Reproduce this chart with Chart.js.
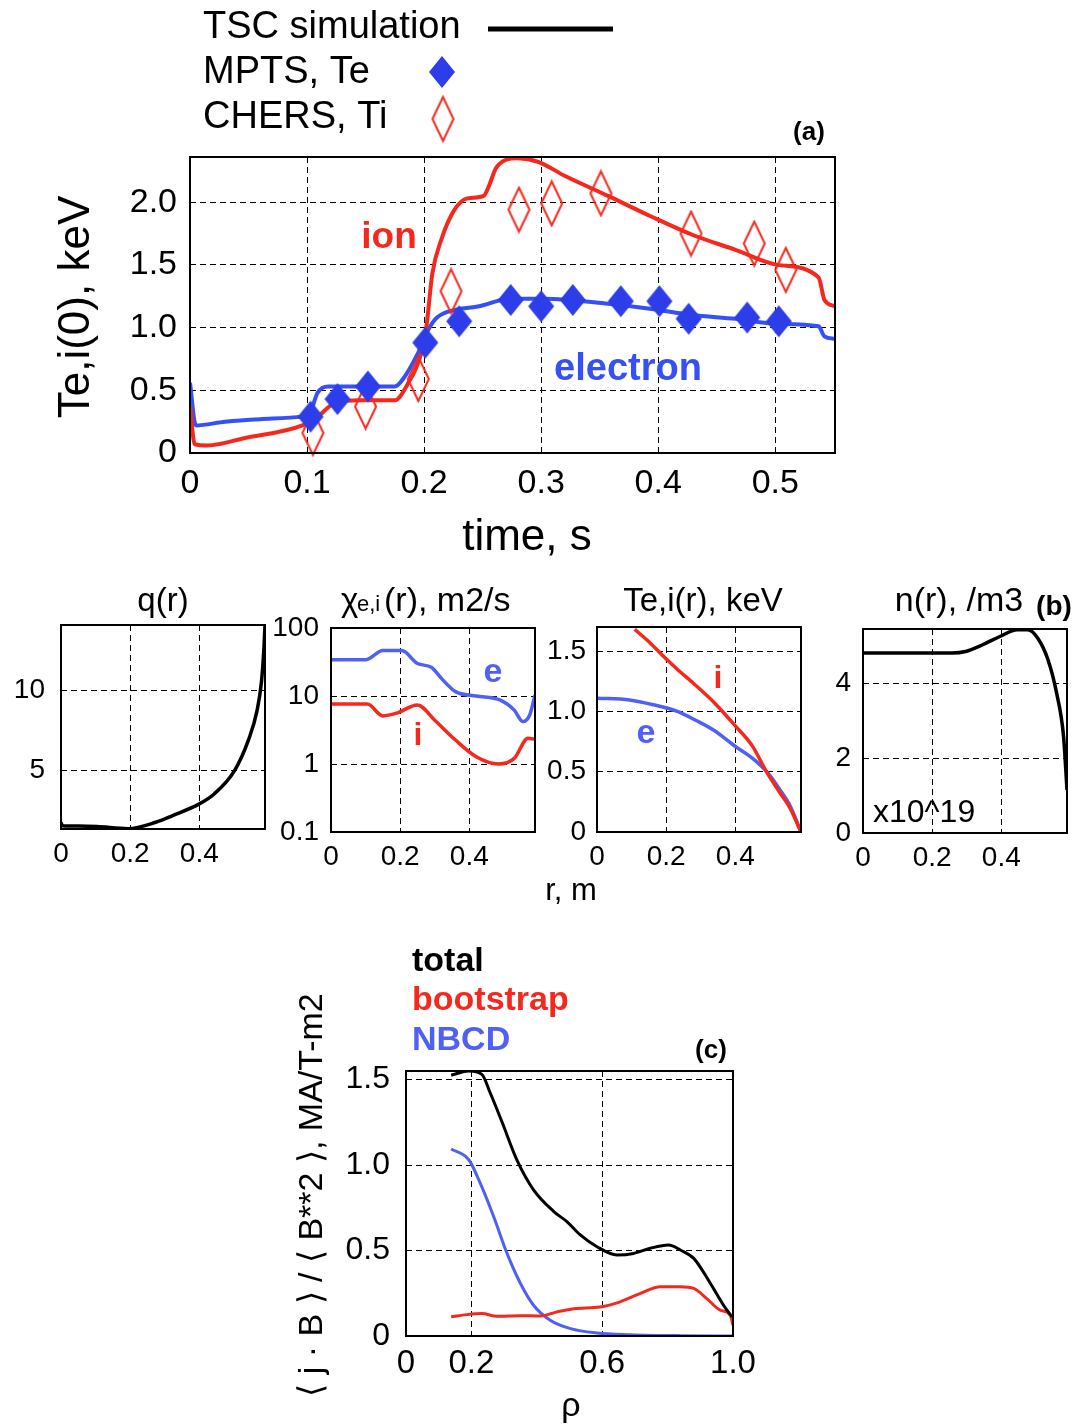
<!DOCTYPE html>
<html>
<head>
<meta charset="utf-8">
<script src="https://cdn.jsdelivr.net/npm/chart.js@4.4.0/dist/chart.umd.min.js"></script>
<style>
  html, body { margin: 0; padding: 0; background: #fff; }
  #fig { position: relative; width: 1078px; height: 1426px; overflow: hidden; }
  #fig canvas { position: absolute; }
</style>
</head>
<body>
<div id="fig">
  <canvas id="chA"></canvas>
  <canvas id="chQ"></canvas>
  <canvas id="chChi"></canvas>
  <canvas id="chT"></canvas>
  <canvas id="chN"></canvas>
  <canvas id="chC"></canvas>
</div>
<script>
// ---- (a) central temperatures vs time ----
var timeTicks = [0, 0.1, 0.2, 0.3, 0.4, 0.5];
var timeLabels = ["0", "0.1", "0.2", "0.3", "0.4", "0.5"];
var tempTicks = [0, 0.5, 1.0, 1.5, 2.0];
var tempLabels = ["0", "0.5", "1.0", "1.5", "2.0"];

var teSimTime = [0, 0.005, 0.03, 0.06, 0.096, 0.102, 0.109, 0.118, 0.175, 0.182, 0.195, 0.204, 0.211, 0.226, 0.247, 0.273, 0.302, 0.357, 0.393, 0.429, 0.466, 0.502, 0.537, 0.542, 0.551];
var teSim = [0.56, 0.22, 0.25, 0.27, 0.29, 0.31, 0.48, 0.53, 0.53, 0.59, 0.80, 0.99, 1.08, 1.14, 1.17, 1.23, 1.23, 1.19, 1.15, 1.10, 1.07, 1.03, 1.01, 0.93, 0.91];
var tiSimTime = [0, 0.004, 0.015, 0.047, 0.096, 0.109, 0.124, 0.146, 0.175, 0.186, 0.197, 0.202, 0.207, 0.215, 0.226, 0.237, 0.251, 0.255, 0.262, 0.280, 0.298, 0.320, 0.357, 0.393, 0.429, 0.466, 0.502, 0.537, 0.542, 0.551];
var tiSim = [0.38, 0.07, 0.06, 0.12, 0.22, 0.29, 0.40, 0.42, 0.42, 0.55, 0.78, 1.01, 1.43, 1.71, 1.94, 2.03, 2.05, 2.12, 2.28, 2.35, 2.32, 2.21, 2.05, 1.89, 1.74, 1.62, 1.50, 1.40, 1.22, 1.17];
var mptsTime = [0.103, 0.126, 0.152, 0.201, 0.230, 0.274, 0.300, 0.327, 0.368, 0.401, 0.426, 0.476, 0.503];
var mptsTe = [0.29, 0.43, 0.53, 0.88, 1.05, 1.22, 1.17, 1.22, 1.21, 1.21, 1.07, 1.08, 1.05];
var chersTime = [0.105, 0.150, 0.195, 0.223, 0.281, 0.309, 0.351, 0.428, 0.482, 0.509];
var chersTi = [0.16, 0.37, 0.59, 1.29, 1.94, 1.99, 2.07, 1.75, 1.67, 1.46];

// ---- (b) radial profiles ----
var rTicks = [0, 0.2, 0.4];
var rLabels = ["0", "0.2", "0.4"];
var qTicks = [5, 10];
var qLabels = ["5", "10"];
var rQ = [0, 0.005, 0.05, 0.104, 0.194, 0.274, 0.323, 0.4, 0.443, 0.502, 0.542, 0.567, 0.58, 0.587, 0.59];
var qProf = [1.75, 1.55, 1.53, 1.5, 1.37, 1.77, 2.19, 2.92, 3.54, 5.0, 6.9, 8.75, 10.6, 12.7, 14.1];

var chiTicks = [0.1, 1, 10, 100];
var chiLabels = ["0.1", "1", "10", "100"];
var rChiE = [0, 0.1, 0.15, 0.205, 0.25, 0.29, 0.32, 0.36, 0.42, 0.49, 0.53, 0.555, 0.575, 0.59];
var chiE = [34, 34, 46.5, 46.5, 30, 26.5, 18, 11.6, 10, 8.7, 6.2, 4.2, 5.3, 10.3];
var rChiI = [0, 0.105, 0.15, 0.19, 0.25, 0.30, 0.36, 0.42, 0.485, 0.53, 0.57, 0.59];
var chiI = [7.6, 7.6, 5.1, 5.6, 7.4, 4.4, 2.25, 1.28, 1.0, 1.21, 2.4, 2.3];

var tProfTicks = [0, 0.5, 1.0, 1.5];
var tProfLabels = ["0", "0.5", "1.0", "1.5"];
var rTe = [0, 0.094, 0.163, 0.232, 0.29, 0.34, 0.40, 0.45, 0.494, 0.528, 0.558, 0.59];
var teProf = [1.11, 1.095, 1.055, 1.0, 0.92, 0.84, 0.71, 0.61, 0.49, 0.355, 0.22, 0.0];
var rTi = [0.109, 0.153, 0.202, 0.232, 0.28, 0.34, 0.40, 0.45, 0.49, 0.528, 0.558, 0.59];
var tiProf = [1.68, 1.57, 1.43, 1.35, 1.23, 1.07, 0.88, 0.71, 0.50, 0.33, 0.20, 0.0];

var nTicks = [0, 2, 4];
var nLabels = ["0", "2", "4"];
var rN = [0, 0.257, 0.297, 0.346, 0.396, 0.446, 0.476, 0.505, 0.535, 0.56, 0.58, 0.59];
var nProf = [4.8, 4.8, 4.84, 5.02, 5.24, 5.42, 5.42, 5.2, 4.62, 3.73, 2.58, 1.15];

// ---- (c) current profiles ----
var rhoTicks = [0, 0.2, 0.6, 1.0];
var rhoLabels = ["0", "0.2", "0.6", "1.0"];
var jTicks = [0, 0.5, 1.0, 1.5];
var jLabels = ["0", "0.5", "1.0", "1.5"];
var rhoTot = [0.138, 0.192, 0.232, 0.258, 0.294, 0.339, 0.39, 0.452, 0.492, 0.533, 0.584, 0.645, 0.696, 0.747, 0.803, 0.839, 0.88, 0.931, 0.971, 0.997];
var jTotal = [1.525, 1.55, 1.53, 1.42, 1.25, 1.03, 0.855, 0.728, 0.669, 0.591, 0.522, 0.474, 0.483, 0.513, 0.532, 0.503, 0.454, 0.307, 0.18, 0.112];
var rhoBs = [0.138, 0.187, 0.232, 0.278, 0.35, 0.411, 0.462, 0.513, 0.594, 0.655, 0.717, 0.778, 0.839, 0.88, 0.92, 0.961, 0.992, 1.0];
var jBoot = [0.112, 0.125, 0.131, 0.115, 0.119, 0.117, 0.141, 0.16, 0.17, 0.2, 0.249, 0.288, 0.288, 0.278, 0.219, 0.151, 0.121, 0.063];
var rhoNb = [0.138, 0.192, 0.227, 0.268, 0.309, 0.35, 0.39, 0.441, 0.503, 0.584, 0.686, 0.839, 1.0];
var jNbcd = [1.094, 1.031, 0.894, 0.699, 0.483, 0.307, 0.18, 0.092, 0.043, 0.018, 0.008, 0.002, 0];

var RED = "#f4281c";
var BLUE = "#3550f6";
var BLUE2 = "#5060f4";
var FONT = "'Liberation Sans', Arial, Helvetica, sans-serif";

Chart.defaults.font.family = FONT;
Chart.defaults.color = "#000";

function pts(xs, ys) {
  return xs.map(function (x, i) { return { x: x, y: ys[i] }; });
}

function diamond(w, h, fill, stroke, lw) {
  var c = document.createElement("canvas");
  c.width = w + 2 * lw;
  c.height = h + 2 * lw;
  var g = c.getContext("2d");
  g.beginPath();
  g.moveTo(c.width / 2, lw);
  g.lineTo(c.width - lw, c.height / 2);
  g.lineTo(c.width / 2, c.height - lw);
  g.lineTo(lw, c.height / 2);
  g.closePath();
  if (fill) { g.fillStyle = fill; g.fill(); }
  if (stroke) { g.strokeStyle = stroke; g.lineWidth = lw; g.stroke(); }
  return c;
}
var blueDiamond = diamond(26, 32, "#2c3de9", null, 1);
var redDiamond = diamond(21, 44, null, RED, 2);

function font(size, bold) {
  return (bold ? "bold " : "") + size + "px " + FONT;
}

// frame around the plot + free texts / marks given in page coordinates
function decor(box, d) {
  return {
    id: "decor",
    afterDatasetsDraw: function (chart) {
      var ctx = chart.ctx, a = chart.chartArea;
      ctx.save();
      ctx.strokeStyle = "#000";
      ctx.lineWidth = 2;
      ctx.strokeRect(a.left, a.top, a.right - a.left, a.bottom - a.top);
      ctx.restore();
    },
    afterDraw: function (chart) {
      var ctx = chart.ctx;
      (d.texts || []).forEach(function (t) {
        ctx.save();
        ctx.font = t[3];
        ctx.fillStyle = t[4] || "#000";
        ctx.textAlign = t[5] || "center";
        ctx.textBaseline = "alphabetic";
        ctx.translate(t[1] - box[0], t[2] - box[1]);
        if (t[6]) ctx.rotate(t[6]);
        ctx.fillText(t[0], 0, 0);
        ctx.restore();
      });
      (d.lines || []).forEach(function (l) {
        ctx.save();
        ctx.strokeStyle = l[5];
        ctx.lineWidth = l[4];
        ctx.beginPath();
        ctx.moveTo(l[0] - box[0], l[1] - box[1]);
        ctx.lineTo(l[2] - box[0], l[3] - box[1]);
        ctx.stroke();
        ctx.restore();
      });
      (d.marks || []).forEach(function (m) {
        ctx.drawImage(m[0], m[1] - box[0] - m[0].width / 2, m[2] - box[1] - m[0].height / 2);
      });
    }
  };
}

function axis(s, dir, size) {
  return {
    type: s.type || "linear",
    min: s.min,
    max: s.max,
    afterBuildTicks: function (sc) {
      sc.ticks = s.ticks.map(function (v) { return { value: v }; });
    },
    afterFit: function (sc) {
      if (dir === "x") sc.height = size; else sc.width = size;
    },
    ticks: {
      font: { size: s.font },
      color: "#000",
      padding: s.pad,
      autoSkip: false,
      maxRotation: 0,
      callback: function (v, i) { return s.labels[i]; }
    },
    grid: { color: "#000", lineWidth: 1, drawTicks: false },
    border: { display: false, dash: [6, 4] }
  };
}

function makeChart(id, box, area, datasets, xs, ys, d) {
  var cv = document.getElementById(id);
  cv.width = box[2];
  cv.height = box[3];
  cv.style.left = box[0] + "px";
  cv.style.top = box[1] + "px";
  cv.style.width = box[2] + "px";
  cv.style.height = box[3] + "px";
  return new Chart(cv, {
    type: "line",
    data: { datasets: datasets },
    options: {
      responsive: false,
      animation: false,
      layout: { padding: { left: 0, bottom: 0, top: area[1] - box[1], right: box[0] + box[2] - area[2] } },
      plugins: { legend: { display: false }, tooltip: { enabled: false } },
      scales: {
        x: axis(xs, "x", box[1] + box[3] - area[3]),
        y: axis(ys, "y", area[0] - box[0])
      }
    },
    plugins: [decor(box, d)]
  });
}

function curve(data, color, w) {
  return { data: data, borderColor: color, borderWidth: w, pointRadius: 0, cubicInterpolationMode: "monotone", fill: false };
}

// (a)
makeChart("chA", [0, 0, 1078, 570], [190, 157, 835, 453], [
  { data: pts(mptsTime, mptsTe), showLine: false, pointStyle: blueDiamond, pointRadius: 12, clip: false },
  { data: pts(chersTime, chersTi), showLine: false, pointStyle: redDiamond, pointRadius: 12, clip: false },
  curve(pts(tiSimTime, tiSim), RED, 4),
  curve(pts(teSimTime, teSim), BLUE, 4)
], { min: 0, max: 0.551, ticks: timeTicks, labels: timeLabels, font: 34, pad: 10 },
   { min: 0, max: 2.36, ticks: tempTicks, labels: tempLabels, font: 34, pad: 13 }, {
  texts: [
    ["TSC simulation", 203, 38, font(38), "#000", "left"],
    ["MPTS, Te", 203, 83, font(38), "#000", "left"],
    ["CHERS, Ti", 203, 128, font(38), "#000", "left"],
    ["(a)", 809, 140, font(26, true)],
    ["ion", 389, 248, font(37, true), RED],
    ["electron", 628, 380, font(38, true), BLUE],
    ["Te,i(0), keV", 89, 307, font(44), "#000", "center", -Math.PI / 2],
    ["time, s", 527, 550, font(44)]
  ],
  lines: [[488, 29, 613, 29, 5, "#000"]],
  marks: [[blueDiamond, 442, 72], [redDiamond, 443, 119]]
});

// (b) q(r)
makeChart("chQ", [0, 570, 268, 340], [61, 625, 265, 829], [
  curve(pts(rQ, qProf), "#000", 3.5)
], { min: 0, max: 0.59, ticks: rTicks, labels: rLabels, font: 28, pad: 8 },
   { min: 1.35, max: 14.1, ticks: qTicks, labels: qLabels, font: 28, pad: 16 }, {
  texts: [["q(r)", 163, 611, font(33)]]
});

// (b) chi(r)
makeChart("chChi", [268, 570, 272, 340], [331, 628, 535, 832], [
  curve(pts(rChiE, chiE), BLUE2, 3.5),
  curve(pts(rChiI, chiI), RED, 3.5)
], { min: 0, max: 0.59, ticks: rTicks, labels: rLabels, font: 28, pad: 8 },
   { type: "logarithmic", min: 0.1, max: 100, ticks: chiTicks, labels: chiLabels, font: 28, pad: 12 }, {
  texts: [
    ["\u03c7", 341, 611, font(33), "#000", "left"],
    ["e,i", 357, 611, font(22), "#000", "left"],
    ["(r), m2/s", 384, 611, font(34), "#000", "left"],
    ["e", 493, 682, font(34, true), BLUE2],
    ["i", 418, 745, font(32, true), RED]
  ]
});

// (b) Te,i(r)
makeChart("chT", [540, 570, 270, 340], [597, 627, 801, 832], [
  curve(pts(rTi, tiProf), RED, 3.5),
  curve(pts(rTe, teProf), BLUE2, 3.5)
], { min: 0, max: 0.59, ticks: rTicks, labels: rLabels, font: 28, pad: 8 },
   { min: 0, max: 1.7, ticks: tProfTicks, labels: tProfLabels, font: 28, pad: 11 }, {
  texts: [
    ["Te,i(r), keV", 703, 611, font(33)],
    ["i", 718, 688, font(32, true), RED],
    ["e", 646, 743, font(34, true), BLUE2],
    ["r, m", 571, 900, font(31)]
  ]
});

// (b) n(r)
makeChart("chN", [810, 570, 268, 340], [863, 629, 1067, 833], [
  curve(pts(rN, nProf), "#000", 3.5)
], { min: 0, max: 0.59, ticks: rTicks, labels: rLabels, font: 28, pad: 8 },
   { min: 0, max: 5.44, ticks: nTicks, labels: nLabels, font: 28, pad: 12 }, {
  texts: [
    ["n(r), /m3", 959, 611, font(34)],
    ["(b)", 1054, 615, font(28, true)],
    ["x10^19", 873, 822, font(32), "#000", "left"]
  ]
});

// (c)
makeChart("chC", [0, 910, 1078, 516], [406, 1071, 733, 1336], [
  curve(pts(rhoTot, jTotal), "#000", 3),
  curve(pts(rhoBs, jBoot), RED, 3),
  curve(pts(rhoNb, jNbcd), BLUE2, 3)
], { min: 0, max: 1.0, ticks: rhoTicks, labels: rhoLabels, font: 33, pad: 8 },
   { min: 0, max: 1.55, ticks: jTicks, labels: jLabels, font: 32, pad: 16 }, {
  texts: [
    ["total", 412, 971, font(34, true), "#000", "left"],
    ["bootstrap", 412, 1010, font(34, true), RED, "left"],
    ["NBCD", 412, 1050, font(34, true), BLUE2, "left"],
    ["(c)", 711, 1058, font(26, true)],
    ["\u27e8 j \u00b7 B \u27e9 / \u27e8 B**2 \u27e9, MA/T-m2", 322, 1195, font(34), "#000", "center", -Math.PI / 2],
    ["\u03c1", 571, 1416, font(34)]
  ]
});
</script>
</body>
</html>
